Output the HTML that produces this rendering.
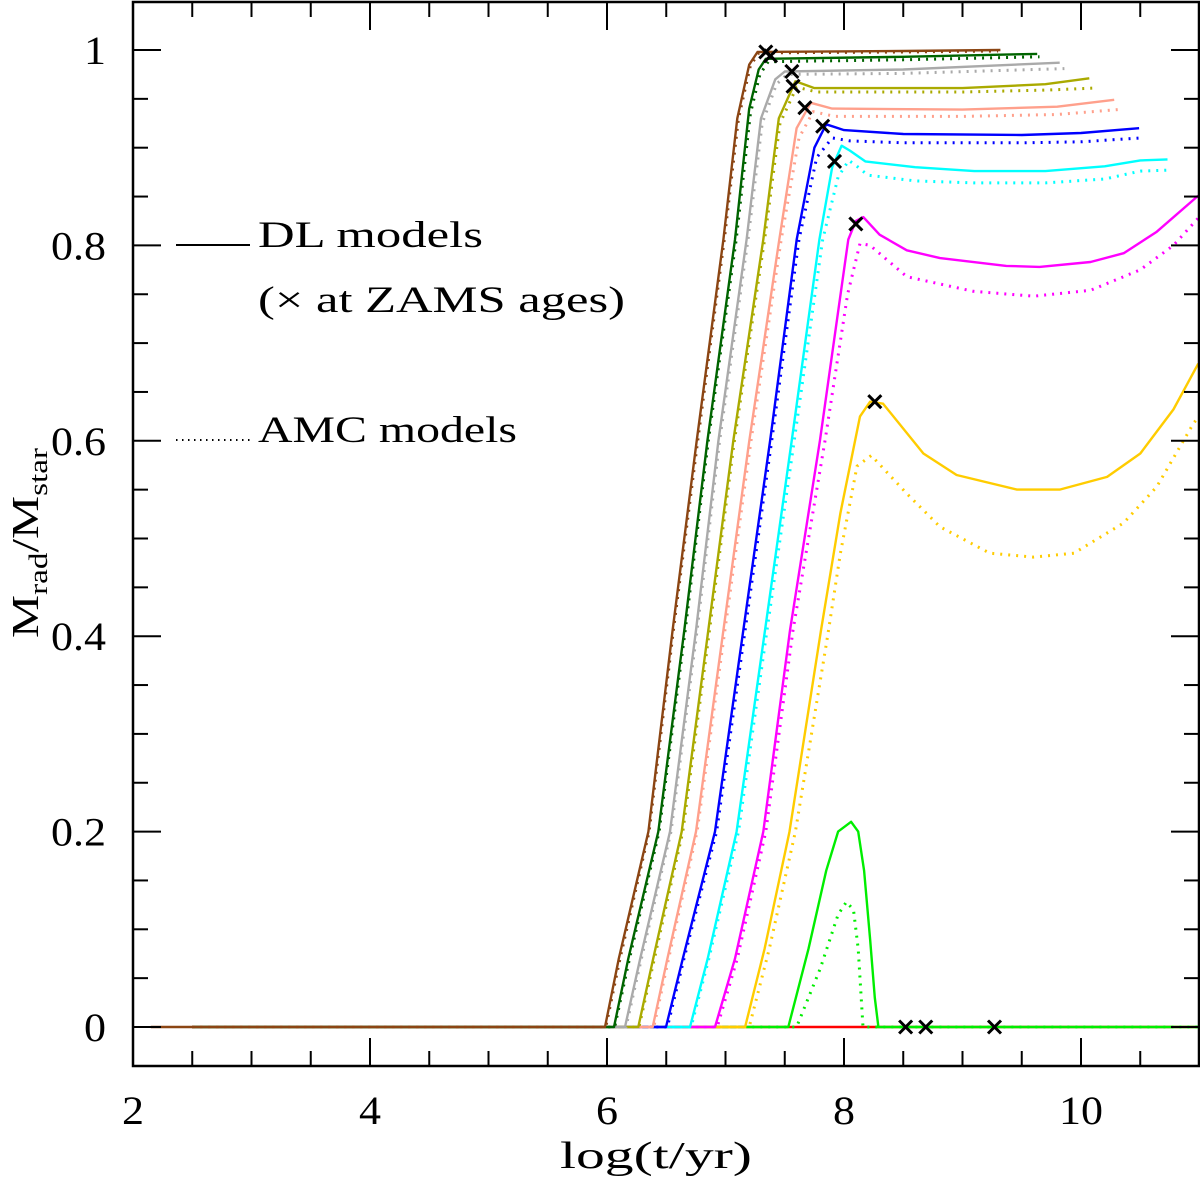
<!DOCTYPE html>
<html><head><meta charset="utf-8"><title>Mrad/Mstar vs log t</title>
<style>
html,body{margin:0;padding:0;background:#fff;}
svg{display:block;font-family:"Liberation Serif",serif;}
</style></head>
<body>
<svg id="chart" width="1200" height="1182" viewBox="0 0 1200 1182" xmlns="http://www.w3.org/2000/svg">
<g id="marks"></g>
<g id="axes"></g>
<g>
  <line x1="176" y1="245" x2="250" y2="245" stroke="#000" stroke-width="2"/>
  <text x="258" y="247" font-size="37" textLength="225" lengthAdjust="spacingAndGlyphs">DL models</text>
  <text x="258" y="312" font-size="37" textLength="367" lengthAdjust="spacingAndGlyphs">(× at ZAMS ages)</text>
  <line x1="176" y1="440" x2="252" y2="440" stroke="#000" stroke-width="2" stroke-dasharray="1.5 4.5"/>
  <text x="258" y="442" font-size="37" textLength="259" lengthAdjust="spacingAndGlyphs">AMC models</text>
</g>
<text x="656" y="1168" font-size="38" text-anchor="middle" textLength="192" lengthAdjust="spacingAndGlyphs">log(t/yr)</text>
<text transform="translate(38,638) rotate(-90)" font-size="38" textLength="190" lengthAdjust="spacingAndGlyphs">M<tspan font-size="26" dy="9">rad</tspan><tspan dy="-9">/M</tspan><tspan font-size="26" dy="9">star</tspan></text>
</svg>
<script>
// axis ranges / ticks
const xTickLabels = [2, 4, 6, 8, 10];
const yTickLabels = [0, 0.2, 0.4, 0.6, 0.8, 1];

// DL (solid) and AMC (dotted) tracks: log t values and Mrad/Mstar values
const brownDL_t = [2.15, 5.983, 6.1, 6.349, 6.554, 6.757, 6.982, 7.1, 7.2, 7.27, 8.5, 9.32];
const brownDL_f = [0, 0, 0.07, 0.2, 0.406, 0.6, 0.806, 0.93, 0.985, 0.998, 0.999, 1.0];
const brownAMC_t = [2.5, 5.99, 6.11, 6.355, 6.56, 6.765, 6.99, 7.11, 7.21, 7.28, 8.5, 9.3];
const brownAMC_f = [0, 0, 0.07, 0.2, 0.406, 0.6, 0.806, 0.93, 0.984, 0.997, 0.998, 0.999];
const dgreenDL_t = [2.5, 6.059, 6.18, 6.433, 6.652, 6.847, 7.08, 7.2, 7.28, 7.34, 8.5, 9.63];
const dgreenDL_f = [0, 0, 0.07, 0.2, 0.406, 0.6, 0.806, 0.94, 0.98, 0.991, 0.993, 0.996];
const dgreenAMC_t = [2.5, 6.065, 6.19, 6.44, 6.66, 6.855, 7.09, 7.21, 7.29, 7.36, 8.5, 9.65];
const dgreenAMC_f = [0, 0, 0.07, 0.2, 0.406, 0.6, 0.806, 0.935, 0.975, 0.988, 0.99, 0.993];
const grayDL_t = [2.5, 6.152, 6.28, 6.532, 6.751, 6.94, 7.178, 7.3, 7.42, 7.5, 8.5, 9.82];
const grayDL_f = [0, 0, 0.07, 0.2, 0.406, 0.6, 0.806, 0.93, 0.97, 0.978, 0.98, 0.987];
const grayAMC_t = [2.5, 6.16, 6.29, 6.54, 6.76, 6.95, 7.19, 7.31, 7.43, 7.52, 8.5, 9.86];
const grayAMC_f = [0, 0, 0.07, 0.2, 0.406, 0.6, 0.806, 0.925, 0.965, 0.975, 0.976, 0.981];
const oliveDL_t = [2.5, 6.264, 6.39, 6.63, 6.855, 7.066, 7.319, 7.45, 7.59, 7.75, 9.0, 9.7, 10.07];
const oliveDL_f = [0, 0, 0.07, 0.2, 0.406, 0.6, 0.806, 0.93, 0.968, 0.961, 0.961, 0.965, 0.971];
const oliveAMC_t = [2.5, 6.27, 6.4, 6.64, 6.865, 7.075, 7.33, 7.46, 7.6, 7.77, 9.0, 9.7, 10.11];
const oliveAMC_f = [0, 0, 0.07, 0.2, 0.406, 0.6, 0.806, 0.925, 0.962, 0.957, 0.957, 0.959, 0.961];
const salmonDL_t = [2.5, 6.386, 6.51, 6.751, 6.982, 7.201, 7.454, 7.6, 7.72, 7.9, 9.0, 9.8, 10.28];
const salmonDL_f = [0, 0, 0.07, 0.2, 0.406, 0.6, 0.806, 0.92, 0.946, 0.94, 0.939, 0.942, 0.949];
const salmonAMC_t = [2.5, 6.395, 6.52, 6.76, 6.995, 7.215, 7.47, 7.62, 7.74, 7.92, 9.0, 9.8, 10.31];
const salmonAMC_f = [0, 0, 0.07, 0.2, 0.406, 0.6, 0.806, 0.91, 0.937, 0.932, 0.932, 0.934, 0.939];
const blueDL_t = [2.5, 6.498, 6.64, 6.911, 7.15, 7.376, 7.601, 7.75, 7.85, 8.0, 8.5, 9.5, 10.0, 10.49];
const blueDL_f = [0, 0, 0.07, 0.2, 0.406, 0.6, 0.806, 0.9, 0.924, 0.918, 0.914, 0.913, 0.915, 0.92];
const blueAMC_t = [2.5, 6.51, 6.65, 6.925, 7.165, 7.39, 7.62, 7.77, 7.9, 8.05, 8.5, 9.5, 10.0, 10.52];
const blueAMC_f = [0, 0, 0.07, 0.2, 0.406, 0.6, 0.806, 0.89, 0.91, 0.907, 0.905, 0.905, 0.906, 0.91];
const cyanDL_t = [2.5, 6.7, 6.85, 7.094, 7.333, 7.559, 7.792, 7.9, 7.98, 8.05, 8.18, 8.6, 9.1, 9.7, 10.2, 10.5, 10.73];
const cyanDL_f = [0, 0, 0.07, 0.2, 0.406, 0.6, 0.806, 0.88, 0.902, 0.897, 0.886, 0.88, 0.876, 0.876, 0.881, 0.887, 0.888];
const cyanAMC_t = [2.5, 6.71, 6.86, 7.11, 7.35, 7.58, 7.82, 7.95, 8.04, 8.1, 8.2, 8.6, 9.1, 9.7, 10.2, 10.5, 10.72];
const cyanAMC_f = [0, 0, 0.07, 0.2, 0.406, 0.6, 0.806, 0.87, 0.887, 0.882, 0.872, 0.866, 0.864, 0.864, 0.868, 0.876, 0.877];
const magentaDL_t = [2.5, 6.911, 7.08, 7.319, 7.544, 7.797, 8.036, 8.1, 8.163, 8.3, 8.53, 8.81, 9.37, 9.65, 10.08, 10.36, 10.64, 10.99];
const magentaDL_f = [0, 0, 0.07, 0.2, 0.406, 0.6, 0.806, 0.825, 0.829, 0.811, 0.795, 0.787, 0.779, 0.778, 0.783, 0.792, 0.814, 0.851];
const magentaAMC_t = [2.5, 6.93, 7.1, 7.34, 7.57, 7.84, 8.03, 8.135, 8.22, 8.53, 9.09, 9.6, 10.08, 10.5, 10.78, 10.99];
const magentaAMC_f = [0, 0, 0.07, 0.2, 0.406, 0.6, 0.75, 0.802, 0.8, 0.768, 0.753, 0.748, 0.754, 0.775, 0.8, 0.828];
const goldDL_t = [2.5, 7.165, 7.33, 7.54, 7.806, 7.97, 8.135, 8.22, 8.33, 8.67, 8.95, 9.46, 9.82, 10.22, 10.5, 10.78, 10.99];
const goldDL_f = [0, 0, 0.08, 0.2, 0.406, 0.526, 0.625, 0.64, 0.638, 0.587, 0.565, 0.55, 0.55, 0.563, 0.587, 0.632, 0.679];
const goldAMC_t = [2.5, 7.2, 7.37, 7.59, 7.862, 7.97, 8.11, 8.23, 8.53, 8.81, 9.23, 9.6, 9.94, 10.36, 10.64, 10.95, 11.0];
const goldAMC_f = [0, 0, 0.08, 0.2, 0.4, 0.485, 0.574, 0.585, 0.546, 0.512, 0.485, 0.481, 0.485, 0.516, 0.553, 0.618, 0.625];
const greenDL_t = [2.5, 7.53, 7.7, 7.85, 7.95, 8.06, 8.12, 8.17, 8.22, 8.26, 8.29, 11.0];
const greenDL_f = [0, 0, 0.08, 0.16, 0.2, 0.21, 0.2, 0.16, 0.09, 0.03, 0, 0];
const greenAMC_t = [2.5, 7.6, 7.8, 7.95, 8.02, 8.08, 8.12, 8.15, 8.16, 11.0];
const greenAMC_f = [0, 0, 0.06, 0.115, 0.128, 0.12, 0.08, 0.02, 0, 0];
const redDL_t = [2.5, 11.0];
const redDL_f = [0, 0];

// ZAMS markers
const zamsT = [7.34, 7.38, 7.56, 7.57, 7.67, 7.82, 7.92, 8.10, 8.26, 8.52, 8.69, 9.27];
const zamsF = [0.998, 0.994, 0.978, 0.963, 0.941, 0.922, 0.886, 0.822, 0.640, 0, 0, 0];

const NS = "http://www.w3.org/2000/svg";
const X0 = 133, X1 = 1199, Y0 = 2, Y1 = 1066;
const xMin = 2, xMax = 2 + (X1 - X0) / 118.5;
const yZero = 1027, yPerUnit = 977;
function xs(v) { return X0 + (v - xMin) * 118.5; }
function ys(v) { return yZero - v * yPerUnit; }

const marks = document.getElementById('marks');
const axes = document.getElementById('axes');

function drawCurve(name, ts, fs, color, dotted) {
  const p = document.createElementNS(NS, 'polyline');
  
  
  p.setAttribute('points', ts.map((t, i) => xs(Math.min(t, xMax)).toFixed(1) + ',' + ys(fs[i]).toFixed(1)).join(' '));
  p.setAttribute('fill', 'none');
  p.setAttribute('stroke', color);
  p.setAttribute('stroke-linejoin', 'round');
  if (dotted) {
    p.setAttribute('stroke-width', '3');
    p.setAttribute('stroke-dasharray', '2 6');
  } else {
    p.setAttribute('stroke-width', '2.4');
  }
  marks.appendChild(p);
}

drawCurve('red-dl-line', redDL_t, redDL_f, '#ff0000', false);
drawCurve('green-dl-line', greenDL_t, greenDL_f, '#00ee00', false);
drawCurve('green-amc-line', greenAMC_t, greenAMC_f, '#00ee00', true);
drawCurve('gold-amc-line', goldAMC_t, goldAMC_f, '#ffcc00', true);
drawCurve('gold-dl-line', goldDL_t, goldDL_f, '#ffcc00', false);
drawCurve('magenta-amc-line', magentaAMC_t, magentaAMC_f, '#ff00ff', true);
drawCurve('magenta-dl-line', magentaDL_t, magentaDL_f, '#ff00ff', false);
drawCurve('cyan-amc-line', cyanAMC_t, cyanAMC_f, '#00ffff', true);
drawCurve('cyan-dl-line', cyanDL_t, cyanDL_f, '#00ffff', false);
drawCurve('blue-amc-line', blueAMC_t, blueAMC_f, '#0000ff', true);
drawCurve('blue-dl-line', blueDL_t, blueDL_f, '#0000ff', false);
drawCurve('salmon-amc-line', salmonAMC_t, salmonAMC_f, '#ffa08c', true);
drawCurve('salmon-dl-line', salmonDL_t, salmonDL_f, '#ffa08c', false);
drawCurve('olive-amc-line', oliveAMC_t, oliveAMC_f, '#aaaa00', true);
drawCurve('olive-dl-line', oliveDL_t, oliveDL_f, '#aaaa00', false);
drawCurve('gray-amc-line', grayAMC_t, grayAMC_f, '#aaaaaa', true);
drawCurve('gray-dl-line', grayDL_t, grayDL_f, '#aaaaaa', false);
drawCurve('darkgreen-amc-line', dgreenAMC_t, dgreenAMC_f, '#006400', true);
drawCurve('darkgreen-dl-line', dgreenDL_t, dgreenDL_f, '#006400', false);
drawCurve('brown-amc-line', brownAMC_t, brownAMC_f, '#8b4513', true);
drawCurve('brown-dl-line', brownDL_t, brownDL_f, '#8b4513', false);

// ZAMS crosses
zamsT.forEach((t, i) => {
  const cx = xs(t), cy = ys(zamsF[i]), s = 6.5;
  const g = document.createElementNS(NS, 'path');
  
  
  g.setAttribute('d', `M${cx - s},${cy - s}L${cx + s},${cy + s}M${cx - s},${cy + s}L${cx + s},${cy - s}`);
  g.setAttribute('stroke', '#000');
  g.setAttribute('stroke-width', '3');
  marks.appendChild(g);
});

// frame
const frame = document.createElementNS(NS, 'rect');


frame.setAttribute('x', X0); frame.setAttribute('y', Y0);
frame.setAttribute('width', X1 - X0); frame.setAttribute('height', Y1 - Y0);
frame.setAttribute('fill', 'none'); frame.setAttribute('stroke', '#000'); frame.setAttribute('stroke-width', '2.5');
axes.appendChild(frame);

function tick(x1, y1, x2, y2, name) {
  const l = document.createElementNS(NS, 'line');
  
  
  l.setAttribute('x1', x1); l.setAttribute('y1', y1); l.setAttribute('x2', x2); l.setAttribute('y2', y2);
  l.setAttribute('stroke', '#000'); l.setAttribute('stroke-width', '2');
  axes.appendChild(l);
}
// x ticks every 0.5, major every 2
for (let k = 0; xMin + k * 0.5 <= xMax + 1e-6; k++) {
  const v = xMin + k * 0.5, x = xs(v);
  const major = Math.abs(v / 2 - Math.round(v / 2)) < 1e-6;
  const L = major ? 28 : 15;
  tick(x, Y1, x, Y1 - L, 'x-tick-bottom');
  tick(x, Y0, x, Y0 + L, 'x-tick-top');
}
// y ticks every 0.05, major every 0.2
for (let k = 0; k <= 21; k++) {
  const v = k * 0.05, y = ys(v);
  if (y < Y0) continue;
  const major = k % 4 === 0;
  const L = major ? 28 : 15;
  tick(X0, y, X0 + L, y, 'y-tick-left');
  tick(X1, y, X1 - L, y, 'y-tick-right');
}
function labelWidth(s) {
  let w = 0;
  for (const c of s) w += (c === '.') ? 11 : 22;
  return w;
}
xTickLabels.forEach(v => {
  const t = document.createElementNS(NS, 'text');
  
  
  const s = String(v);
  t.setAttribute('x', xs(v)); t.setAttribute('y', 1124);
  t.setAttribute('font-size', '40'); t.setAttribute('text-anchor', 'middle');
  t.setAttribute('textLength', labelWidth(s)); t.setAttribute('lengthAdjust', 'spacingAndGlyphs');
  t.textContent = s;
  axes.appendChild(t);
});
yTickLabels.forEach(v => {
  const t = document.createElementNS(NS, 'text');
  
  
  const s = String(v);
  t.setAttribute('x', 106); t.setAttribute('y', ys(v) + 14);
  t.setAttribute('font-size', '40'); t.setAttribute('text-anchor', 'end');
  t.setAttribute('textLength', labelWidth(s)); t.setAttribute('lengthAdjust', 'spacingAndGlyphs');
  t.textContent = s;
  axes.appendChild(t);
});
</script>
</body></html>
